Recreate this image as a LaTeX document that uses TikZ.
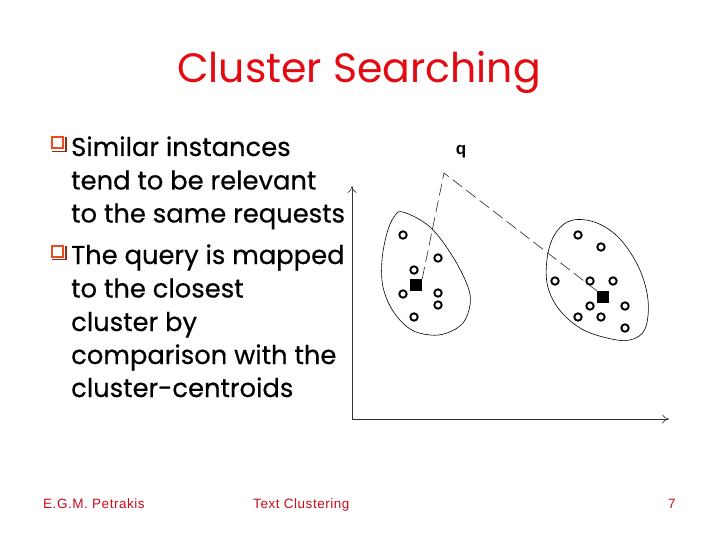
\documentclass[tikz,border=0pt]{standalone}
\usepackage{fontspec}
\setmainfont{Poppins}
\newfontfamily\bodyfont[FakeBold=0.5]{Poppins}
\newfontfamily\footfont[LetterSpace=4]{Liberation Sans}
\newfontfamily\qfont{Liberation Sans}
\usetikzlibrary{arrows.meta}
\definecolor{titlered}{RGB}{228,10,18}
\definecolor{footred}{RGB}{200,10,30}
\definecolor{bulletorange}{RGB}{232,78,32}
\definecolor{bulletshadow}{RGB}{150,40,20}
\tikzset{
  body/.style={anchor=base west, inner sep=0pt, font=\bodyfont\fontsize{25.8}{30}\selectfont},
  foot/.style={anchor=base west, inner sep=0pt, text=footred, font=\footfont\fontsize{13.5}{15}\selectfont},
  pt/.style={circle, draw=black, line width=1.9pt, minimum width=7.4pt, minimum height=7.4pt, inner sep=0pt},
  centroid/.style={rectangle, fill=black, minimum size=12pt, inner sep=0pt},
  blob/.style={draw=black, line width=0.6pt},
  axis/.style={draw=black!80, line width=0.8pt, -{To[length=7pt,width=9pt,line width=0.6pt]}},
  qline/.style={draw=black!85, line width=0.6pt, dash pattern=on 12pt off 5pt},
  bulletbox/.style={rectangle, draw=bulletorange, fill=white, line width=2pt, minimum width=11pt, minimum height=11pt, inner sep=0pt}
}
\begin{document}
\begin{tikzpicture}[x=1pt,y=-1pt]
\useasboundingbox (0,0) rectangle (720,540);
% title
\node[inner sep=0pt, anchor=base, text=titlered, font=\fontsize{41}{46}\selectfont] (title) at (359,83) {Cluster Searching};
% bullets
\node[bulletbox] (b1) at (57.5,143) {};
\draw[bulletshadow, line width=1.3pt] ([xshift=2pt,yshift=-1pt]b1.north east) -- ([xshift=2pt,yshift=-2pt]b1.south east) -- ([xshift=1pt,yshift=-2pt]b1.south west);
\node[bulletbox] (b2) at (57.5,251) {};
\draw[bulletshadow, line width=1.3pt] ([xshift=2pt,yshift=-1pt]b2.north east) -- ([xshift=2pt,yshift=-2pt]b2.south east) -- ([xshift=1pt,yshift=-2pt]b2.south west);
\node[body] (l1) at (71,156) {Similar instances};
\node[body] (l2) at (71,189.5) {tend to be relevant};
\node[body] (l3) at (71,222.5) {to the same requests};
\node[body] (l4) at (71,264) {The query is mapped};
\node[body] (l5) at (71,297.5) {to the closest};
\node[body] (l6) at (71,331) {cluster by};
\node[body] (l7) at (71,364) {comparison with the};
\node[body] (l8) at (71,397) {cluster-centroids};
% footer
\node[foot] (f1) at (43,508) {E.G.M. Petrakis};
\node[foot] (f2) at (253,508) {Text Clustering};
\node[foot] (f3) at (668,508) {7};
% axes
\coordinate (origin) at (352,419);
\coordinate (ytop) at (352,186);
\coordinate (xend) at (669,419);
\draw[axis] (origin) -- (ytop);
\draw[axis] (origin) -- (xend);
% blobs
\draw[blob] plot[smooth cycle, tension=0.6] coordinates {(403,212) (430,227) (453,257) (468,287) (470,305) (463,323) (447,333) (430,335) (410,329) (393,311) (383,287) (382,260) (387,233) (394,217)};
\draw[blob] plot[smooth cycle, tension=0.6] coordinates {(573,220) (597,223) (620,239) (639,268) (648,300) (645,329) (630,340) (607,338) (580,328) (558,308) (547,283) (548,253) (557,231)};
% left cluster points
\node[pt] (a1) at (403,235) {};
\node[pt] (a2) at (438,258) {};
\node[pt] (a3) at (414,270) {};
\node[pt] (a4) at (403,294) {};
\node[pt] (a5) at (438,293) {};
\node[pt] (a6) at (438,305) {};
\node[pt] (a7) at (414,317) {};
% right cluster points
\node[pt] (r1) at (578,235) {};
\node[pt] (r2) at (601,247) {};
\node[pt] (r3) at (555,281) {};
\node[pt] (r4) at (590,281) {};
\node[pt] (r5) at (613,281) {};
\node[pt] (r6) at (590,306) {};
\node[pt] (r7) at (625,306) {};
\node[pt] (r8) at (578,317) {};
\node[pt] (r9) at (601,317) {};
\node[pt] (r10) at (625,328) {};
% centroids
\node[centroid] (c1) at (416,285) {};
\node[centroid] (c2) at (603,297) {};
% query
\coordinate (q) at (444,173);
\node[inner sep=0pt, font=\qfont\bfseries\fontsize{17}{19}\selectfont] (qlabel) at (461,152) {q};
\draw[qline] (c1.north east) -- (q) -- (c2.north west);
\end{tikzpicture}
\end{document}
